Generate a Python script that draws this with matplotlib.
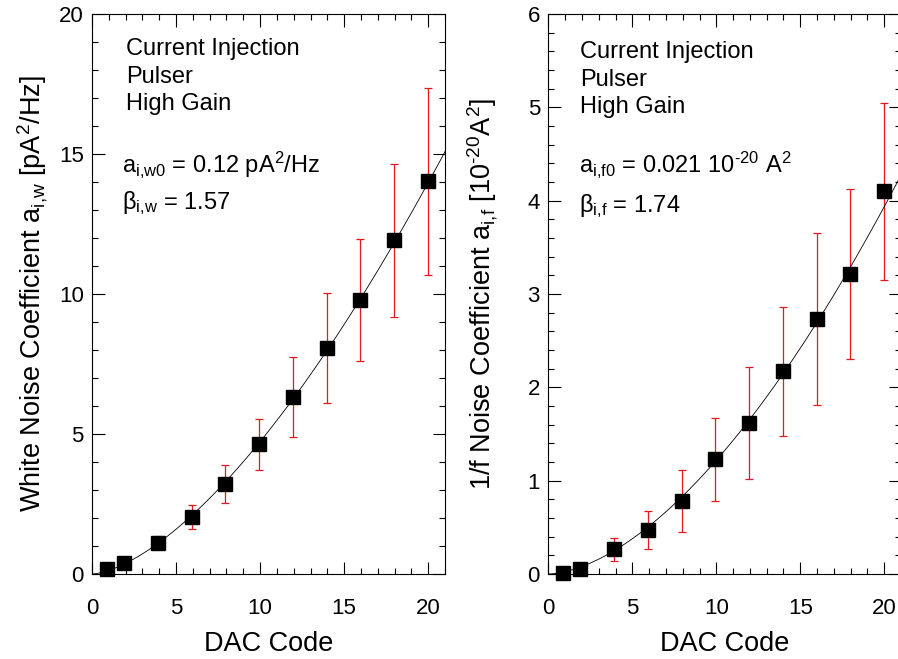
import matplotlib
matplotlib.use("Agg")
import matplotlib.pyplot as plt
from matplotlib.ticker import MultipleLocator
import numpy as np

plt.rcParams['font.family'] = ['Liberation Sans', 'DejaVu Sans']
plt.rcParams['mathtext.fontset'] = 'custom'
plt.rcParams['mathtext.rm'] = 'Liberation Sans'
plt.rcParams['mathtext.it'] = 'Liberation Sans'
plt.rcParams['mathtext.default'] = 'regular'

# DAC code of each measurement
dac = [0.88, 1.88, 3.9, 5.93, 7.94, 9.95, 11.96, 13.97, 15.97, 17.98, 20.0]

# white noise coefficient [pA^2/Hz]
white = [0.19, 0.41, 1.12, 2.03, 3.22, 4.63, 6.33, 8.07, 9.79, 11.92, 14.02]
white_err = [0.03, 0.06, 0.24, 0.42, 0.69, 0.92, 1.43, 1.97, 2.18, 2.73, 3.33]

# 1/f noise coefficient [1e-20 A^2]
onef = [0.01, 0.057, 0.265, 0.475, 0.785, 1.227, 1.62, 2.17, 2.73, 3.21, 4.10]
onef_err = [0.01, 0.02, 0.125, 0.205, 0.33, 0.447, 0.6, 0.695, 0.92, 0.91, 0.95]

info_lines = ["Current Injection", "Pulser", "High Gain"]

RED = '#e3191f'


def power_fit(x, y):
    # power law a0 * x^beta, fitted in log-log space
    x = np.array(x[2:])
    y = np.array(y[2:])
    beta, loga = np.polyfit(np.log(x), np.log(y), 1)
    return np.exp(loga), beta


def style_axis(ax, ymax, ymajor, yminor):
    ax.set_xlim(0, 21)
    ax.set_ylim(0, ymax)
    ax.xaxis.set_major_locator(MultipleLocator(5))
    ax.xaxis.set_minor_locator(MultipleLocator(1))
    ax.yaxis.set_major_locator(MultipleLocator(ymajor))
    ax.yaxis.set_minor_locator(MultipleLocator(yminor))
    ax.tick_params(which='both', direction='in', top=True, right=True,
                   width=0.8, color='black')
    ax.tick_params(which='major', length=9, labelsize=16)
    ax.tick_params(which='minor', length=4)
    ax.tick_params(axis='x', which='major', pad=17)
    ax.tick_params(axis='y', which='major', pad=6)
    for s in ax.spines.values():
        s.set_linewidth(0.8)
    ax.set_xlabel("DAC Code", fontsize=19.5, labelpad=9)


def plot_panel(ax, y, yerr):
    a0, beta = power_fit(dac, y)
    xf = np.linspace(0.0, 21.5, 300)
    ax.plot(xf, a0 * xf ** beta, color='black', linewidth=0.6, zorder=2)
    ax.errorbar(dac, y, yerr=yerr, fmt='none', ecolor=RED, elinewidth=0.9,
                capsize=3.2, capthick=0.9, zorder=1)
    ax.plot(dac, y, 's', color='black', markersize=9.6, zorder=3, clip_on=False)


fig = plt.figure(figsize=(8.98, 6.59), dpi=100)

ax1 = fig.add_axes([92 / 898, 85 / 659, 353 / 898, 560 / 659])
plot_panel(ax1, white, white_err)
style_axis(ax1, 20, 5, 1)
ax1.set_ylabel("White Noise Coefficient a$_{i{,}w}$ [pA$^2$/Hz]", fontsize=19.5, labelpad=6)
for i, t in enumerate(info_lines):
    ax1.text(0.097, 0.9266 - i * 0.0492, t, transform=ax1.transAxes,
             fontsize=17, va='baseline')
ax1.text(0.085, 0.718, "a$_{i{,}w0}$ = 0.12 pA$^2$/Hz", transform=ax1.transAxes,
         fontsize=17, va='baseline')
ax1.text(0.085, 0.6524, "\u03b2$_{i{,}w}$ = 1.57", transform=ax1.transAxes,
         fontsize=17, va='baseline')

ax2 = fig.add_axes([548.3 / 898, 85 / 659, 352.8 / 898, 560 / 659])
plot_panel(ax2, onef, onef_err)
style_axis(ax2, 6, 1, 0.2)
ax2.set_ylabel(r"1/f Noise Coefficient a$_{i{,}f}$ [10$^{\text{-20}}$A$^2$]", fontsize=19.5,
               labelpad=20)
for i, t in enumerate(info_lines):
    ax2.text(0.0907, 0.9208 - i * 0.049, t, transform=ax2.transAxes,
             fontsize=17, va='baseline')
ax2.text(0.086, 0.717, r"a$_{i{,}f0}$ = 0.021 10$^{\text{-20}}$ A$^2$", transform=ax2.transAxes,
         fontsize=17, va='baseline')
ax2.text(0.086, 0.6465, "\u03b2$_{i{,}f}$ = 1.74", transform=ax2.transAxes,
         fontsize=17, va='baseline')

fig.savefig("out.png", dpi=100)
